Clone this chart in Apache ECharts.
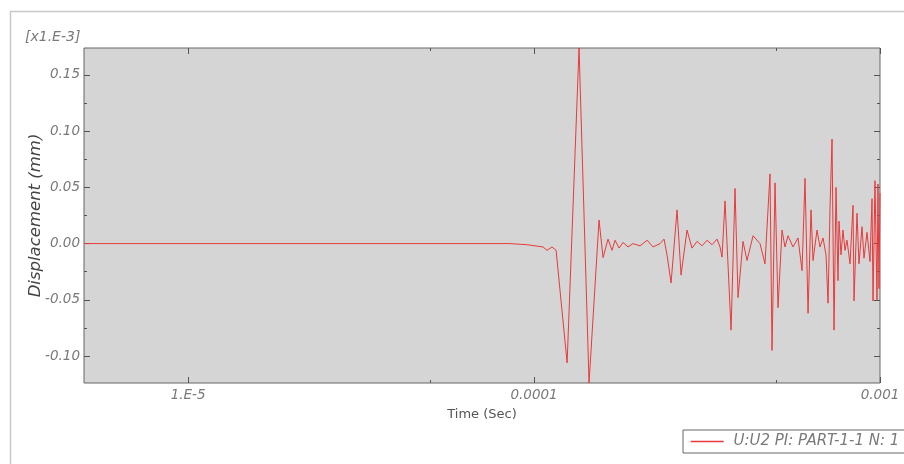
<!DOCTYPE html>
<html><head><meta charset="utf-8">
<script src="https://cdn.jsdelivr.net/npm/echarts@6/dist/echarts.min.js"></script>
<style>html,body{margin:0;padding:0;background:#fff}#c{width:904px;height:464px}</style>
</head><body><div id="c"></div>
<script>
// Time (s), log axis
const timeSec = [
  5.0e-6, 8.5e-5, 9.55e-5, 1.062e-4, 1.090e-4, 1.127e-4, 1.158e-4, 1.246e-4, 1.349e-4, 1.442e-4,
  1.541e-4, 1.583e-4, 1.636e-4, 1.680e-4, 1.714e-4, 1.761e-4, 1.808e-4, 1.869e-4, 1.932e-4, 2.025e-4,
  2.122e-4, 2.208e-4, 2.313e-4, 2.375e-4, 2.423e-4, 2.489e-4, 2.590e-4, 2.660e-4, 2.768e-4, 2.861e-4,
  2.959e-4, 3.059e-4, 3.162e-4, 3.269e-4, 3.380e-4, 3.448e-4, 3.494e-4, 3.565e-4, 3.711e-4, 3.810e-4,
  3.887e-4, 4.018e-4, 4.127e-4, 4.296e-4, 4.499e-4, 4.651e-4, 4.809e-4, 4.874e-4, 4.972e-4, 5.072e-4,
  5.209e-4, 5.313e-4, 5.421e-4, 5.605e-4, 5.794e-4, 5.951e-4, 6.071e-4, 6.194e-4, 6.318e-4, 6.403e-4,
  6.575e-4, 6.708e-4, 6.844e-4, 6.982e-4, 7.076e-4, 7.171e-4, 7.267e-4, 7.364e-4, 7.462e-4, 7.561e-4,
  7.612e-4, 7.714e-4, 7.817e-4, 7.922e-4, 8.028e-4, 8.190e-4, 8.356e-4, 8.412e-4, 8.580e-4, 8.696e-4,
  8.872e-4, 8.990e-4, 9.171e-4, 9.357e-4, 9.483e-4, 9.546e-4, 9.672e-4, 9.802e-4, 9.867e-4, 9.933e-4,
  1.0e-3
];
// Displacement (mm), in units of 1E-3
const dispE3 = [
  0, 0, -0.001, -0.003, -0.006, -0.003, -0.006, -0.106, 0.174, -0.124,
  0.021, -0.0125, 0.004, -0.006, 0.003, -0.004, 0.001, -0.003, 0.0, -0.002,
  0.003, -0.003, 0.0, 0.004, -0.010, -0.035, 0.030, -0.028, 0.012, -0.004,
  0.002, -0.002, 0.003, -0.001, 0.004, -0.003, -0.012, 0.038, -0.077, 0.049,
  -0.048, 0.002, -0.015, 0.007, 0.0, -0.018, 0.062, -0.095, 0.054, -0.057,
  0.012, -0.003, 0.007, -0.003, 0.005, -0.024, 0.058, -0.062, 0.030, -0.015,
  0.012, -0.003, 0.005, -0.010, -0.053, 0.032, 0.093, -0.077, 0.050, -0.033,
  0.020, -0.010, 0.012, -0.006, 0.003, -0.018, 0.034, -0.051, 0.027, -0.018,
  0.015, -0.013, 0.010, -0.016, 0.040, -0.051, 0.056, -0.050, 0.053, -0.040,
  0.045
];
const xMajorTicks = [1e-5, 1e-4, 1e-3];
const xMajorLabels = ['1.E-5', '0.0001', '0.001'];
const xMinorTicks = [5e-5, 5e-4];
const yMajorTicks = [-0.10, -0.05, 0, 0.05, 0.10, 0.15];
const yMinorTicks = [-0.075, -0.025, 0.025, 0.075, 0.125];
const seriesName = 'U:U2 PI: PART-1-1 N: 1';
const xMin = 5e-6, xMax = 1e-3, yMin = -0.124, yMax = 0.174;

const FONT = 'DejaVu Sans';
const tickColor = '#555';
const labelColor = '#7a7a7a';
const lineColor = '#e8393b';

function xFmt(v) {
  const i = xMajorTicks.findIndex(t => Math.abs(Math.log10(v) - Math.log10(t)) < 1e-6);
  return i >= 0 ? xMajorLabels[i] : '';
}
function yFmt(v) {
  const r = Math.abs(v) < 1e-9 ? 0 : v;
  return r.toFixed(2);
}

function xAx(pos, vals, len, withLabel) {
  const a = {
    type: 'log', logBase: 10, min: xMin, max: xMax, position: pos,
    axisLine: { show: false, onZero: false }, splitLine: { show: false }, minorTick: { show: false },
    axisTick: { show: true, inside: true, length: len, customValues: vals, lineStyle: { color: tickColor } },
    axisLabel: { show: false }
  };
  if (withLabel) {
    a.axisLabel = { show: true, customValues: xMajorTicks, formatter: xFmt, color: labelColor,
      fontStyle: 'italic', fontSize: 13.5, fontFamily: FONT, margin: 5 };
    a.name = 'Time (Sec)';
    a.nameLocation = 'middle';
    a.nameGap = 25;
    a.nameMoveOverlap = false;
    a.nameTextStyle = { color: '#555', fontSize: 13, fontFamily: FONT };
  }
  return a;
}
function yAx(pos, vals, len, withLabel) {
  const a = {
    type: 'value', min: yMin, max: yMax, position: pos,
    axisLine: { show: false, onZero: false }, splitLine: { show: false }, minorTick: { show: false },
    axisTick: { show: true, inside: true, length: len, customValues: vals, lineStyle: { color: tickColor } },
    axisLabel: { show: false }
  };
  if (withLabel) {
    a.axisLabel = { show: true, customValues: yMajorTicks, formatter: yFmt, color: labelColor,
      fontStyle: 'italic', fontSize: 13.5, fontFamily: FONT, margin: 4 };
    a.name = 'Displacement (mm)';
    a.nameLocation = 'middle';
    a.nameGap = 40;
    a.nameMoveOverlap = false;
    a.nameTextStyle = { color: '#444', fontSize: 16.5, fontStyle: 'italic', fontFamily: FONT };
  }
  return a;
}

const chart = echarts.init(document.getElementById('c'), null, { renderer: 'canvas' });
chart.setOption({
  animation: false,
  backgroundColor: '#fff',
  grid: { left: 84, right: 24, top: 48, bottom: 81, show: true, backgroundColor: '#d5d5d5',
    borderColor: '#666', borderWidth: 1 },
  xAxis: [
    xAx('bottom', xMajorTicks, 6, true),
    xAx('top', xMajorTicks, 6, false),
    xAx('bottom', xMinorTicks, 3, false),
    xAx('top', xMinorTicks, 3, false)
  ],
  yAxis: [
    yAx('left', yMajorTicks, 6, true),
    yAx('right', yMajorTicks, 6, false),
    yAx('left', yMinorTicks, 3, false),
    yAx('right', yMinorTicks, 3, false)
  ],
  legend: {
    data: [seriesName],
    left: 683, top: 430, orient: 'horizontal',
    padding: [4, 8, 4, 7], itemWidth: 33, itemHeight: 12,
    itemStyle: { opacity: 0 },
    lineStyle: { color: lineColor, width: 1.4, opacity: 1 },
    borderColor: '#666', borderWidth: 1, backgroundColor: '#fff',
    formatter: n => ' ' + n,
    textStyle: { color: labelColor, fontStyle: 'italic', fontSize: 15, fontFamily: FONT }
  },
  graphic: [
    { type: 'rect', silent: true, z: -10, shape: { x: 10.5, y: 11.5, width: 900, height: 460 },
      style: { fill: null, stroke: '#c8c8c8', lineWidth: 1.5 } },
    { type: 'text', left: 25, top: 30, silent: true,
      style: { text: '[x1.E-3]', fill: labelColor, font: 'italic 14px "DejaVu Sans"' } }
  ],
  series: [{
    name: seriesName, type: 'line', xAxisIndex: 0, yAxisIndex: 0,
    data: timeSec.map((t, i) => [t, dispE3[i]]),
    symbol: 'none', lineStyle: { color: lineColor, width: 1 }, itemStyle: { color: lineColor }
  }]
});
</script>
</body></html>
